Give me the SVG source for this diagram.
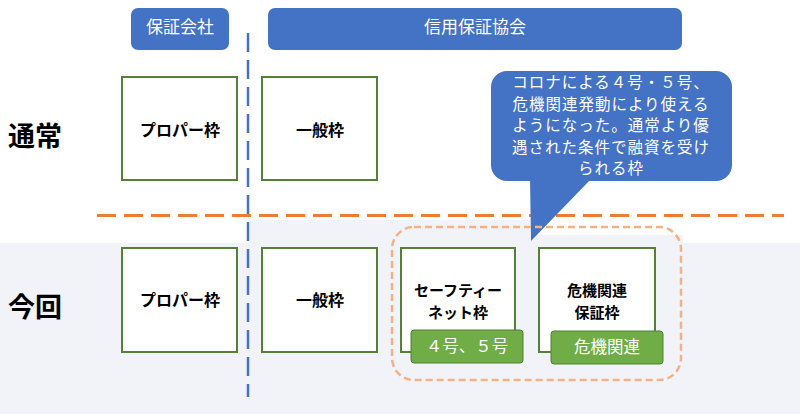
<svg xmlns="http://www.w3.org/2000/svg" width="800" height="414" viewBox="0 0 800 414">
<style>
.hdr{fill:#4472c4}
.ht{fill:#fff;font-family:"Noto Sans CJK JP","Noto Sans",sans-serif;font-size:17px;text-anchor:middle}
.box{fill:#fff;stroke:#548235;stroke-width:2}
.bt{fill:#000;font-family:"Noto Sans CJK JP",sans-serif;font-size:16px;font-weight:bold;text-anchor:middle}
.bt2{fill:#000;font-family:"Noto Sans CJK JP",sans-serif;font-size:15px;font-weight:bold;text-anchor:middle}
.side{fill:#000;font-family:"Noto Sans CJK JP",sans-serif;font-size:27px;font-weight:bold}
.tag{fill:#70ad47;stroke:#507e32;stroke-width:1}
.tt{fill:#fff;font-family:"Noto Sans CJK JP",sans-serif;font-size:16.5px;text-anchor:middle}
.ct{fill:#fff;font-family:"Noto Sans CJK JP",sans-serif;font-size:15.5px;letter-spacing:1px;text-anchor:middle}
</style>
<rect width="800" height="414" fill="#fff"/>
<g id="background">
<rect x="0" y="243" width="800" height="171" fill="#f2f3f8"/>
<rect x="250" y="220" width="280" height="24" fill="#f2f3f8"/>
<rect x="530" y="235" width="153" height="10" fill="#f2f3f8"/>
</g>
<g id="header-hoshogaisha">
<rect class="hdr" x="131" y="8" width="98" height="42" rx="7"/>
<text class="ht" x="180" y="33">保証会社</text>
</g>
<g id="header-shinyo">
<rect class="hdr" x="268" y="8" width="414" height="42" rx="7"/>
<text class="ht" x="475" y="33">信用保証協会</text>
</g>
<g id="label-tsujo"><text class="side" x="8" y="146">通常</text></g>
<g id="label-konkai"><text class="side" x="8" y="317">今回</text></g>
<g id="connectors">
<line x1="248" y1="33" x2="248" y2="397" stroke="#4472c4" stroke-width="2.5" stroke-dasharray="19 8"/>
<line x1="97" y1="215.5" x2="784" y2="215.5" stroke="#ed7d31" stroke-width="3" stroke-dasharray="19 8"/>
</g>
<g id="callout">
<rect class="hdr" x="491" y="71" width="241" height="110" rx="16"/>
<polygon class="hdr" points="530,178 531,241 592,178"/>
<text class="ct" x="611" y="88">コロナによる４号・５号、</text>
<text class="ct" x="611" y="109.5">危機関連発動により使える</text>
<text class="ct" x="611" y="131">ようになった。通常より優</text>
<text class="ct" x="611" y="152.5">遇された条件で融資を受け</text>
<text class="ct" x="611" y="174">られる枠</text>
</g>
<g id="group-special">
<rect x="392" y="227" width="289" height="153" rx="22" fill="none" stroke="#f4b183" stroke-width="2.5" stroke-dasharray="7 4"/>
</g>
<g id="node-proper-1">
<rect class="box" x="122" y="77" width="115" height="103"/>
<text class="bt" x="180" y="136">プロパー枠</text>
</g>
<g id="node-ippan-1">
<rect class="box" x="262" y="77" width="115" height="103"/>
<text class="bt" x="320" y="136">一般枠</text>
</g>
<g id="node-proper-2">
<rect class="box" x="122" y="248" width="115" height="104"/>
<text class="bt" x="180" y="306">プロパー枠</text>
</g>
<g id="node-ippan-2">
<rect class="box" x="262" y="248" width="115" height="104"/>
<text class="bt" x="320" y="306">一般枠</text>
</g>
<g id="node-safety">
<rect class="box" x="401" y="248" width="114" height="104"/>
<text class="bt2" x="458" y="296">セーフティー</text>
<text class="bt2" x="458" y="318">ネット枠</text>
<rect class="tag" x="411" y="330" width="112" height="33" rx="3"/>
<text class="tt" x="467" y="352">４号、５号</text>
</g>
<g id="node-kiki">
<rect class="box" x="539" y="248" width="116" height="104"/>
<text class="bt2" x="597" y="296">危機関連</text>
<text class="bt2" x="597" y="318">保証枠</text>
<rect class="tag" x="551" y="331" width="112" height="33" rx="3"/>
<text class="tt" x="607" y="353">危機関連</text>
</g>
</svg>
